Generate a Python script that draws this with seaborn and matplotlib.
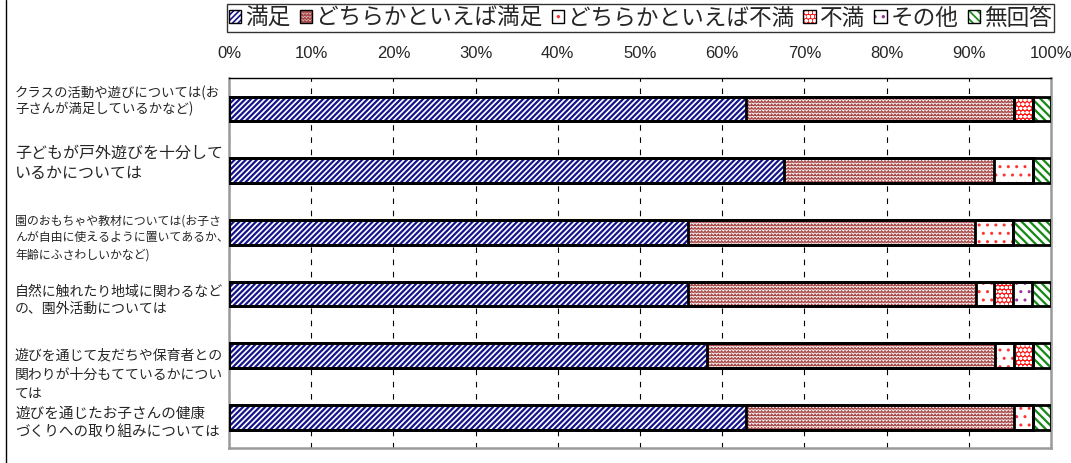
import numpy as np
import matplotlib
matplotlib.use("Agg")
import matplotlib.pyplot as plt
from matplotlib import hatch as mhatch
from matplotlib import font_manager as fm
from matplotlib.path import Path
from matplotlib.patches import Patch
from matplotlib.legend_handler import HandlerTuple
from matplotlib.lines import Line2D
from matplotlib.transforms import ScaledTranslation
import seaborn as sns

# ---- data -----------------------------------------------------------------
categories = [
    "クラスの活動や遊びについては(お\n子さんが満足しているかなど)",
    "子どもが戸外遊びを十分して\nいるかについては",
    "園のおもちゃや教材については(お子さ\nんが自由に使えるように置いてあるか、\n年齢にふさわしいかなど)",
    "自然に触れたり地域に関わるなど\nの、園外活動については",
    "遊びを通じて友だちや保育者との\n関わりが十分もてているかについ\nては",
    "遊びを通じたお子さんの健康\nづくりへの取り組みについては",
]
series_names = ["満足", "どちらかといえば満足", "どちらかといえば不満", "不満", "その他", "無回答"]
manzoku = [62.9, 67.5, 55.8, 55.9, 58.2, 62.9]
yaya_manzoku = [32.6, 25.6, 34.9, 35.0, 35.0, 32.6]
yaya_fuman = [0.0, 4.7, 4.7, 2.2, 2.3, 2.3]
fuman = [2.3, 0.0, 0.0, 2.3, 2.3, 0.0]
sonota = [0.0, 0.0, 0.0, 2.3, 0.0, 0.0]
mukaitou = [2.2, 2.2, 4.6, 2.3, 2.2, 2.2]
tick_values = [0, 10, 20, 30, 40, 50, 60, 70, 80, 90, 100]
tick_labels = ["0%", "10%", "20%", "30%", "40%", "50%", "60%", "70%", "80%", "90%", "100%"]

series_values = [manzoku, yaya_manzoku, yaya_fuman, fuman, sonota, mukaitou]


# ---- a zigzag fill pattern (takes the place of the '*' hatch) --------------
class ZigzagHatch(mhatch.HatchPatternBase):
    def __init__(self, hatch, density):
        self.num_rows = int(hatch.count('*') * density)
        self.num_teeth = self.num_rows
        self.num_vertices = self.num_rows * (2 * self.num_teeth + 1)

    def set_vertices_and_codes(self, vertices, codes):
        n = 2 * self.num_teeth + 1
        xs = np.linspace(0.0, 1.0, n)
        amp = 0.3 / self.num_rows
        wave = np.where(np.arange(n) % 2 == 0, -amp, amp)
        for i in range(self.num_rows):
            y0 = (i + 0.5) / self.num_rows
            sl = slice(i * n, (i + 1) * n)
            vertices[sl, 0] = xs
            vertices[sl, 1] = y0 + wave
            codes[sl] = Path.LINETO
            codes[i * n] = Path.MOVETO


mhatch._hatch_types = [ZigzagHatch if t is mhatch.Stars else t for t in mhatch._hatch_types]

# ---- style ----------------------------------------------------------------
sns.set_style("white")
plt.rcParams['font.family'] = ['Noto Sans CJK JP', 'DejaVu Sans']
plt.rcParams['hatch.linewidth'] = 1.2


def has_font(name):
    try:
        fm.findfont(fm.FontProperties(family=name), fallback_to_default=False)
        return True
    except Exception:
        return False


narrow_font = 'Liberation Sans Narrow' if has_font('Liberation Sans Narrow') else 'Liberation Sans'
tick_size = 13 if narrow_font == 'Liberation Sans Narrow' else 12

# face colour, pattern colour, hatch, hatch line width for each series
styles = [
    ("white", "#14148a", "//////", 1.6),
    ("white", "#a84a4a", "*****", 0.8),
    ("white", "#ff3333", "..", 1.0),
    ("#ff1a1a", "white", "oooo", 1.0),
    ("white", "#993399", "..", 1.0),
    ("white", "#138a13", "\\\\\\\\", 1.6),
]

fig = plt.figure(figsize=(10.71, 4.63), dpi=100)
ax = fig.add_axes([229 / 1071, 1 - 448 / 463, (1051 - 229) / 1071, (448 - 78) / 463])

cumulative = np.cumsum(np.array(series_values), axis=0)
bar_width = 0.4

# stacked bars: longest cumulative layer first, shorter ones on top
for k in range(len(series_names) - 1, -1, -1):
    face, pcolor, hatch, hlw = styles[k]
    n_before = len(ax.patches)
    sns.barplot(x=cumulative[k], y=categories, orient="h", ax=ax, color=face,
                saturation=1, width=bar_width, errorbar=None,
                edgecolor=pcolor, linewidth=0, hatch=hatch, zorder=2)
    for p in ax.patches[n_before:]:
        p.set_facecolor(face)
        if hasattr(p, "set_hatch_linewidth"):
            p.set_hatch_linewidth(hlw)

# black outlines around every segment
for k in range(len(series_names)):
    sns.barplot(x=cumulative[k], y=categories, orient="h", ax=ax, color="black",
                fill=False, saturation=1, width=bar_width, errorbar=None,
                linewidth=2, zorder=3)

ax.set_xlim(0, 100)
ax.set_ylim(len(categories) - 0.5, -0.5)
ax.set_xlabel("")
ax.set_ylabel("")

# x axis on top, percentages
ax.xaxis.tick_top()
ax.set_xticks(tick_values)
ax.set_xticklabels(tick_labels, fontfamily=narrow_font, fontsize=tick_size)
ax.tick_params(axis="x", length=0, pad=12)
ax.xaxis.grid(True, color="black", linestyle=(0, (5, 6)), linewidth=0.8)
ax.yaxis.grid(False)
ax.set_axisbelow(True)

for side in ["left", "bottom", "right"]:
    ax.spines[side].set_color("#9a9a9a")
    ax.spines[side].set_linewidth(1.8)
ax.spines["top"].set_color("black")
ax.spines["top"].set_linewidth(1.0)
for s in ax.spines.values():
    s.set_visible(True)

# category labels, left aligned against the figure edge
label_sizes = [9.6, 11.5, 8.6, 10.0, 10.0, 10.5]
label_spacing = [1.15, 1.25, 1.41, 1.22, 1.5, 1.35]
label_shift_px = [-10, -11, 2, 4, 15, 2]
ax.set_yticks(range(len(categories)))
ax.set_yticklabels(categories)
ax.tick_params(axis="y", length=0, pad=(229 - 15) * 72 / 100)
for lab, size, ls, dy in zip(ax.get_yticklabels(), label_sizes, label_spacing, label_shift_px):
    lab.set_fontsize(size)
    lab.set_horizontalalignment("left")
    lab.set_linespacing(ls)
    lab.set_transform(lab.get_transform() + ScaledTranslation(0, -dy / 100, fig.dpi_scale_trans))

# legend
handles = []
for face, pcolor, hatch, hlw in styles:
    h1 = Patch(facecolor=face, edgecolor=pcolor, hatch=hatch, linewidth=0)
    if hasattr(h1, "set_hatch_linewidth"):
        h1.set_hatch_linewidth(hlw)
    h2 = Patch(facecolor="none", edgecolor="black", linewidth=1.0)
    handles.append((h1, h2))
leg = fig.legend(handles, series_names, loc="center", bbox_to_anchor=(0.598, 0.961),
                 ncol=6, fontsize=16.3, frameon=True, fancybox=False,
                 handler_map={tuple: HandlerTuple(ndivide=1)},
                 handlelength=0.55, handleheight=0.55, handletextpad=0.18,
                 columnspacing=0.4, borderpad=0.1, borderaxespad=0)
leg.get_frame().set_edgecolor("black")
leg.get_frame().set_linewidth(1.0)

# chart area edge on the left
fig.add_artist(Line2D([5.5 / 1071, 5.5 / 1071], [0, 1], transform=fig.transFigure,
                      color="black", linewidth=1.0))

fig.savefig("out.png", dpi=100)
